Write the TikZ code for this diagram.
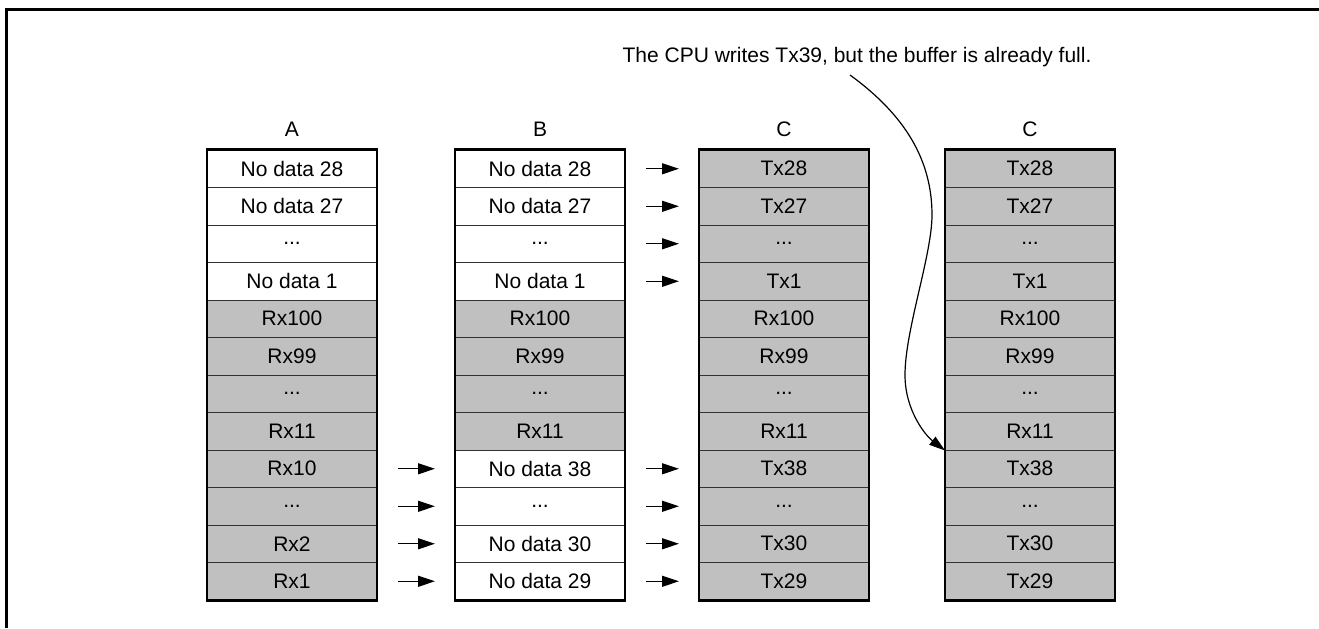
\documentclass[tikz,border=0pt]{standalone}
\usepackage{fontspec}
\setmainfont{Liberation Sans}
\usepackage{xcolor}
\usetikzlibrary{arrows.meta,positioning,calc}

\definecolor{cellgray}{HTML}{C0C0C0}

\begin{document}
\begin{tikzpicture}[x=0.5pt,y=-0.5pt,
  cell/.style={rectangle,draw=black!80,line width=0.5pt,minimum width=84.5pt,
    minimum height=18.75pt,inner sep=0pt,font=\fontsize{10.5}{12}\selectfont},
  nodata/.style={cell,fill=white},
  full/.style={cell,fill=cellgray},
  lbl/.style={font=\fontsize{10.5}{12}\selectfont},
  outline/.style={line width=1.4pt},
  arr/.style={line width=0.6pt,-{Triangle[length=8.5pt,width=5.5pt]},
    shorten <=10.5pt,shorten >=10pt}]
 \useasboundingbox (0,0) rectangle (1319,628);
 \draw[line width=1.5pt] (6,628) -- (6,9) -- (1319,9);
 % ---- A ----
 \node[nodata] (a1) at (292,168.75) {No data 28};
 \node[nodata] (a2) at (292,206.25) {No data 27};
 \node[nodata] (a3) at (292,243.75) {...};
 \node[nodata] (a4) at (292,281.25) {No data 1};
 \node[full] (a5) at (292,318.75) {Rx100};
 \node[full] (a6) at (292,356.25) {Rx99};
 \node[full] (a7) at (292,393.75) {...};
 \node[full] (a8) at (292,431.25) {Rx11};
 \node[full] (a9) at (292,468.75) {Rx10};
 \node[full] (a10) at (292,506.25) {...};
 \node[full] (a11) at (292,543.75) {Rx2};
 \node[full] (a12) at (292,581.25) {Rx1};
 \draw[outline] (a1.north west) rectangle (a12.south east);
 \node[lbl,above=3pt of a1] {A};
 % ---- B ----
 \node[nodata] (b1) at (540,168.75) {No data 28};
 \node[nodata] (b2) at (540,206.25) {No data 27};
 \node[nodata] (b3) at (540,243.75) {...};
 \node[nodata] (b4) at (540,281.25) {No data 1};
 \node[full] (b5) at (540,318.75) {Rx100};
 \node[full] (b6) at (540,356.25) {Rx99};
 \node[full] (b7) at (540,393.75) {...};
 \node[full] (b8) at (540,431.25) {Rx11};
 \node[nodata] (b9) at (540,468.75) {No data 38};
 \node[nodata] (b10) at (540,506.25) {...};
 \node[nodata] (b11) at (540,543.75) {No data 30};
 \node[nodata] (b12) at (540,581.25) {No data 29};
 \draw[outline] (b1.north west) rectangle (b12.south east);
 \node[lbl,above=3pt of b1] {B};
 % ---- C ----
 \node[full] (c1) at (784,168.75) {Tx28};
 \node[full] (c2) at (784,206.25) {Tx27};
 \node[full] (c3) at (784,243.75) {...};
 \node[full] (c4) at (784,281.25) {Tx1};
 \node[full] (c5) at (784,318.75) {Rx100};
 \node[full] (c6) at (784,356.25) {Rx99};
 \node[full] (c7) at (784,393.75) {...};
 \node[full] (c8) at (784,431.25) {Rx11};
 \node[full] (c9) at (784,468.75) {Tx38};
 \node[full] (c10) at (784,506.25) {...};
 \node[full] (c11) at (784,543.75) {Tx30};
 \node[full] (c12) at (784,581.25) {Tx29};
 \draw[outline] (c1.north west) rectangle (c12.south east);
 \node[lbl,above=3pt of c1] {C};
 % ---- C (full) ----
 \node[full] (d1) at (1030,168.75) {Tx28};
 \node[full] (d2) at (1030,206.25) {Tx27};
 \node[full] (d3) at (1030,243.75) {...};
 \node[full] (d4) at (1030,281.25) {Tx1};
 \node[full] (d5) at (1030,318.75) {Rx100};
 \node[full] (d6) at (1030,356.25) {Rx99};
 \node[full] (d7) at (1030,393.75) {...};
 \node[full] (d8) at (1030,431.25) {Rx11};
 \node[full] (d9) at (1030,468.75) {Tx38};
 \node[full] (d10) at (1030,506.25) {...};
 \node[full] (d11) at (1030,543.75) {Tx30};
 \node[full] (d12) at (1030,581.25) {Tx29};
 \draw[outline] (d1.north west) rectangle (d12.south east);
 \node[lbl,above=3pt of d1] {C};
 % ---- arrows ----
 \draw[arr] (a9.east) -- (b9.west);
 \draw[arr] (a10.east) -- (b10.west);
 \draw[arr] (a11.east) -- (b11.west);
 \draw[arr] (a12.east) -- (b12.west);
 \draw[arr] (b1.east) -- (c1.west);
 \draw[arr] (b2.east) -- (c2.west);
 \draw[arr] (b3.east) -- (c3.west);
 \draw[arr] (b4.east) -- (c4.west);
 \draw[arr] (b9.east) -- (c9.west);
 \draw[arr] (b10.east) -- (c10.west);
 \draw[arr] (b11.east) -- (c11.west);
 \draw[arr] (b12.east) -- (c12.west);
 % ---- note ----
 \node[lbl] (note) at (857,57) {The CPU writes Tx39, but the buffer is already full.};
 \coordinate (s) at (850,75);
 \draw[line width=0.6pt,-{Triangle[length=8pt,width=5pt]}] (s)
   .. controls (905,115) and (932,160) .. (932,215)
   .. controls (932,255) and (905,330) .. (905,375)
   .. controls (905,410) and (925,435) .. (d8.south west);
\end{tikzpicture}
\end{document}
